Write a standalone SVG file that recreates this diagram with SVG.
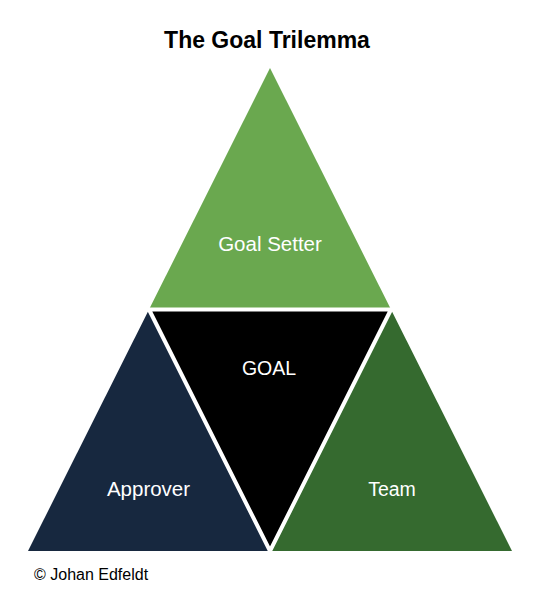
<svg xmlns="http://www.w3.org/2000/svg" width="550" height="614" viewBox="0 0 550 614">
<style>
text{font-family:"Liberation Sans",Arial,sans-serif;}
.lbl{fill:#fff;text-anchor:middle;}
.sep{stroke:#fff;stroke-width:4;fill:none;}
</style>
<rect width="550" height="614" fill="#fff"/>
<text x="267" y="48" font-size="23" font-weight="bold" text-anchor="middle" fill="#000">The Goal Trilemma</text>
<g id="goal-setter"><polygon points="270,68 149,309.5 391,309.5" fill="#6aa84f"/><text class="lbl" x="270" y="251" font-size="20.5">Goal Setter</text></g>
<g id="approver"><polygon points="149,309.5 28,551 270,551" fill="#17283f"/><text class="lbl" x="148.5" y="496" font-size="20.5">Approver</text></g>
<g id="team"><polygon points="391,309.5 270,551 512,551" fill="#356a2f"/><text class="lbl" x="392" y="496" font-size="19.5">Team</text></g>
<g id="goal"><polygon points="149,309.5 391,309.5 270,551" fill="#000"/><text class="lbl" x="269" y="374.5" font-size="19.5">GOAL</text></g>
<g id="connectors"><path class="sep" d="M140,309.5 H400 M149,309.5 L270,551 L391,309.5"/></g>
<text x="34" y="580" font-size="16" fill="#000">© Johan Edfeldt</text>
</svg>
